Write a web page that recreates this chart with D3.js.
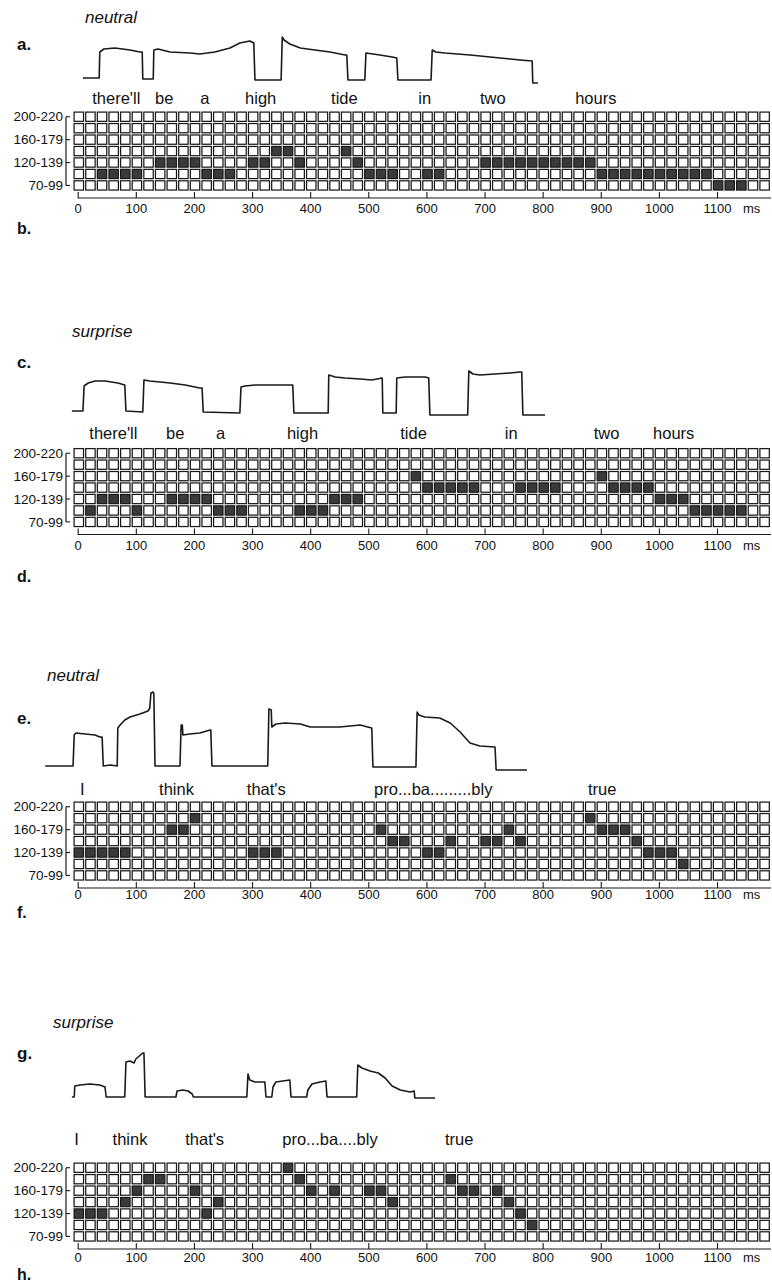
<!DOCTYPE html>
<html><head><meta charset="utf-8">
<script src="https://cdn.jsdelivr.net/npm/d3@7"></script>
<style>
body{margin:0;background:#fff}
svg{display:block}
text{font-family:"Liberation Sans",Arial,Helvetica,sans-serif;fill:#111}
</style>
</head><body>
<svg id="chart" width="772" height="1286"></svg>
<script>
// ---------- data ----------
const pitchBins = ["200-220","180-199","160-179","140-159","120-139","100-119","70-99"];
const labeledBins = ["200-220","160-179","120-139","70-99"];
const tickValues = [0,100,200,300,400,500,600,700,800,900,1000,1100];
const frameMs = 20;
const frameCount = 60;

const wordsTide = ["there'll","be","a","high","tide","in","two","hours"];
const wordsTrue1 = ["I","think","that's","pro...ba.........bly","true"];
const wordsTrue2 = ["I","think","that's","pro...ba....bly","true"];

const onsetsB = [25,133,211,288,436,586,692,856];
const onsetsD = [20,152,238,360,555,735,888,990];
const onsetsF = [4,140,291,510,878];
const onsetsH = [-6,60,185,352,632];

// pitch contours: [ms, relative F0 above unvoiced baseline]
const contourA = [[9,2],[37,2],[38,28],[45,31],[64,32],[90,30],[107,28],[111,28],[112,1],[130,1],[131,30],[138,31],[159,28],[193,27],[210,26],[236,28],[262,32],[279,37],[296,39],[303,37],[305,0],[350,0],[352,43],[355,40],[365,36],[383,32],[408,30],[434,28],[460,25],[463,25],[465,0],[494,0],[496,27],[520,25],[541,23],[549,22],[551,0],[608,0],[610,30],[616,28],[632,27],[675,25],[727,22],[761,20],[782,19],[783,-3],[792,-3]];
const contourC = [[-10,2],[9,2],[11,27],[18,30],[30,32],[47,32],[69,30],[81,28],[83,2],[112,1],[114,33],[124,32],[159,30],[185,28],[210,25],[214,25],[216,1],[279,0],[281,26],[288,27],[305,28],[339,28],[370,28],[372,0],[431,0],[432,38],[443,36],[460,35],[486,34],[506,33],[524,35],[525,0],[548,0],[549,35],[563,36],[598,36],[604,35],[606,-2],[671,-2],[673,42],[680,39],[692,38],[718,39],[744,40],[761,41],[764,41],[766,-2],[804,-2]];
const contourE = [[-56,0],[-8,0],[-6,31],[-3,33],[13,32],[30,31],[38,29],[42,29],[44,0],[56,1],[68,0],[69,38],[73,41],[81,46],[90,49],[107,52],[121,55],[124,58],[126,73],[130,74],[131,72],[133,0],[176,0],[178,41],[180,41],[181,31],[193,32],[210,33],[228,36],[229,36],[231,0],[327,0],[329,57],[333,56],[334,39],[341,42],[357,43],[383,42],[400,39],[417,39],[451,39],[486,41],[499,39],[506,38],[508,-1],[582,-1],[584,54],[587,51],[597,49],[623,48],[641,43],[658,34],[675,23],[692,20],[718,19],[720,-4],[773,-4]];
const contourG = [[-10,0],[-6,0],[-5,11],[4,12],[21,13],[38,12],[47,10],[49,0],[81,0],[83,35],[90,36],[97,34],[100,38],[112,44],[114,44],[116,0],[169,0],[171,6],[181,7],[190,6],[197,3],[199,0],[291,0],[293,23],[296,17],[305,15],[322,15],[324,0],[334,0],[336,10],[341,15],[353,16],[365,17],[367,0],[394,0],[396,7],[403,13],[417,15],[427,16],[429,0],[480,0],[482,32],[489,29],[503,26],[517,24],[529,19],[541,11],[555,7],[572,5],[579,6],[580,-1],[615,-1]];

// active network output cells: [pitch-bin row, [20 ms frame indices]]
const activeB = [
  [3,[17,18,23]],
  [4,[7,8,9,10,15,16,19,24,35,36,37,38,39,40,41,42,43,44]],
  [5,[2,3,4,5,11,12,13,25,26,27,30,31,45,46,47,48,49,50,51,52,53,54]],
  [6,[55,56,57]]
];
const activeD = [
  [2,[29,45]],
  [3,[30,31,32,33,34,38,39,40,41,46,47,48,49]],
  [4,[2,3,4,8,9,10,11,22,23,24,50,51,52]],
  [5,[1,5,12,13,14,19,20,21,53,54,55,56,57]]
];
const activeF = [
  [1,[10,44]],
  [2,[8,9,26,37,45,46,47]],
  [3,[27,28,32,35,36,38,48]],
  [4,[0,1,2,3,4,15,16,17,30,31,49,50,51]],
  [5,[52]]
];
const activeH = [
  [0,[18]],
  [1,[6,7,19,32]],
  [2,[5,10,20,22,25,26,33,34,36]],
  [3,[4,12,27,37]],
  [4,[0,1,2,11,38]],
  [5,[39]]
];

// ---------- layout ----------
const panels = [
  {mood:"neutral", moodX:85, moodY:23, top:"a.", topY:50, bot:"b.", botY:234,
   contour:contourA, baseY:80, words:wordsTide, onsets:onsetsB, wordY:104,
   gridTop:111, axisY:198, labY:213, active:activeB},
  {mood:"surprise", moodX:72, moodY:337, top:"c.", topY:368, bot:"d.", botY:582,
   contour:contourC, baseY:413, words:wordsTide, onsets:onsetsD, wordY:439,
   gridTop:447.5, axisY:534.5, labY:550, active:activeD},
  {mood:"neutral", moodX:47, moodY:681, top:"e.", topY:724, bot:"f.", botY:918,
   contour:contourE, baseY:766, words:wordsTrue1, onsets:onsetsF, wordY:795,
   gridTop:801, axisY:888, labY:899, active:activeF},
  {mood:"surprise", moodX:53, moodY:1028, top:"g.", topY:1059, bot:"h.", botY:1280,
   contour:contourG, baseY:1097, words:wordsTrue2, onsets:onsetsH, wordY:1145,
   gridTop:1162, axisY:1249, labY:1262, active:activeH}
];

const svg = d3.select("#chart");
svg.append("rect").attr("width",772).attr("height",1286).attr("fill","#fff");

const x = d3.scaleLinear().domain([0,1100]).range([77.7, 717.0]);
const colW = x(frameMs) - x(0);
const rowH = 11.45;
const ink = "#1a1a1a";

panels.forEach(p => {
  const g = svg.append("g");
  // titles
  g.append("text").attr("x",p.moodX).attr("y",p.moodY)
    .attr("font-size",17).attr("font-style","italic").text(p.mood);
  g.append("text").attr("x",17).attr("y",p.topY)
    .attr("font-size",17).attr("font-weight","bold").text(p.top);
  g.append("text").attr("x",17).attr("y",p.botY)
    .attr("font-size",16).attr("font-weight","bold").text(p.bot);

  // pitch contour
  const y = d3.scaleLinear().domain([0,50]).range([p.baseY, p.baseY-50]);
  const line = d3.line().x(d=>x(d[0])).y(d=>y(d[1]));
  g.append("path").datum(p.contour).attr("d",line)
    .attr("fill","none").attr("stroke",ink).attr("stroke-width",1.6)
    .attr("stroke-linejoin","round");

  // words
  g.selectAll("text.word").data(p.words).enter().append("text")
    .attr("class","word").attr("x",(d,i)=>x(p.onsets[i])).attr("y",p.wordY)
    .attr("font-size",16.5).text(d=>d);

  // grid
  const ry = d3.scaleLinear().domain([0,pitchBins.length]).range([p.gridTop, p.gridTop+pitchBins.length*rowH]);
  const on = new Set();
  p.active.forEach(([r,cols]) => cols.forEach(c => on.add(r+"_"+c)));
  const cells = [];
  pitchBins.forEach((b,r) => d3.range(frameCount).forEach(c => cells.push({r,c,on:on.has(r+"_"+c)})));
  g.selectAll("rect.cell").data(cells).enter().append("rect")
    .attr("class","cell")
    .attr("x",d=>x(d.c*frameMs - 8.1)+1.1)
    .attr("y",d=>ry(d.r)+1.1)
    .attr("width",colW-2.2).attr("height",rowH-2.2)
    .attr("fill",d=>d.on?"#3a3a3a":"#fff")
    .attr("stroke",ink).attr("stroke-width",1.25);

  // y labels + bracket
  labeledBins.forEach(b => {
    const r = pitchBins.indexOf(b);
    const yc = ry(r)+rowH/2;
    g.append("text").attr("x",63).attr("y",yc+4.7).attr("text-anchor","end")
      .attr("font-size",13.5).text(b);
    g.append("line").attr("x1",66).attr("x2",70).attr("y1",yc).attr("y2",yc)
      .attr("stroke",ink).attr("stroke-width",1.1);
  });
  g.append("line").attr("x1",66).attr("x2",66)
    .attr("y1",ry(0)+rowH/2).attr("y2",ry(6)+rowH/2)
    .attr("stroke",ink).attr("stroke-width",1.2);

  // time axis
  const axis = d3.axisBottom(x).tickValues(tickValues).tickSize(-6).tickSizeOuter(0)
    .tickFormat(d3.format("d"))
    .tickPadding(p.labY - p.axisY - 0.71*13);
  const ag = g.append("g").attr("transform",`translate(0,${p.axisY})`).call(axis);
  ag.select(".domain").remove();
  ag.selectAll(".tick line").attr("stroke",ink).attr("stroke-width",1.1);
  ag.selectAll(".tick text").attr("font-size",13).attr("fill","#111")
    .attr("font-family",'"Liberation Sans",Arial,sans-serif');
  g.append("line").attr("x1",x(0)).attr("x2",771).attr("y1",p.axisY).attr("y2",p.axisY)
    .attr("stroke",ink).attr("stroke-width",1.2);
  g.append("text").attr("x",743).attr("y",p.labY).attr("font-size",13).text("ms");
});
</script>
</body></html>
